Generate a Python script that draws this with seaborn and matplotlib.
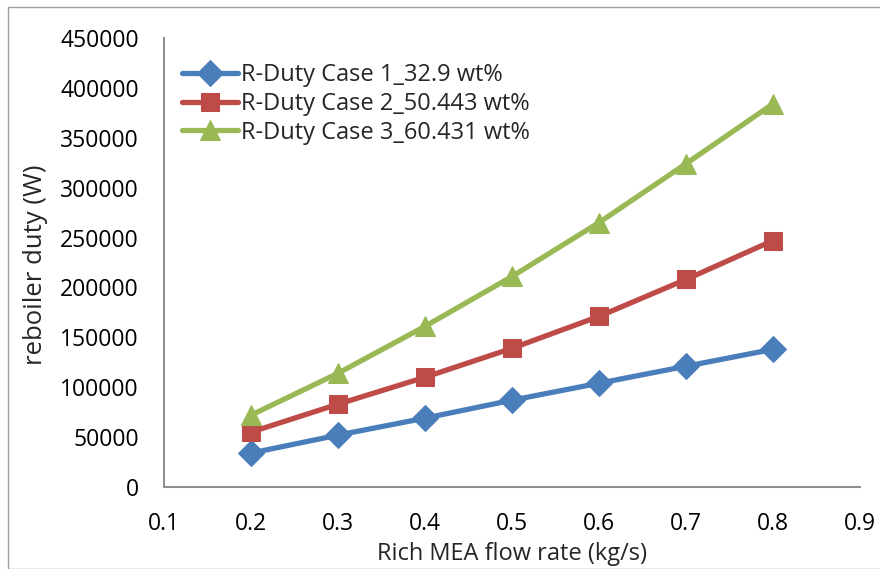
import matplotlib
matplotlib.use("Agg")
import matplotlib.pyplot as plt
import seaborn as sns
import pandas as pd
from matplotlib.patches import Rectangle

flow = [0.2, 0.3, 0.4, 0.5, 0.6, 0.7, 0.8]
case1 = [34000, 52000, 69000, 87000, 104000, 121000, 138000]
case2 = [55000, 83000, 110000, 139000, 171000, 208000, 247000]
case3 = [72000, 114000, 161000, 211000, 265000, 324000, 384000]
labels = ["R-Duty Case 1_32.9 wt%", "R-Duty Case 2_50.443 wt%", "R-Duty Case 3_60.431 wt%"]
colors = ["#4A7EBB", "#BE4B48", "#98B954"]
markers = ["D", "s", "^"]
xticks = [0.1, 0.2, 0.3, 0.4, 0.5, 0.6, 0.7, 0.8, 0.9]
yticks = [0, 50000, 100000, 150000, 200000, 250000, 300000, 350000, 400000, 450000]

sns.set_theme(style="white")
plt.rcParams['font.family'] = ['Open Sans', 'DejaVu Sans']

df = pd.DataFrame({
    "flow": flow * 3,
    "duty": case1 + case2 + case3,
    "series": [labels[0]] * 7 + [labels[1]] * 7 + [labels[2]] * 7,
})

W, H = 880, 569
fig = plt.figure(figsize=(W / 100, H / 100), dpi=100)
fig.patches.append(Rectangle((8 / W, 0), 1, 1 - 7 / H, transform=fig.transFigure,
                             fill=False, edgecolor="#A0A0A0", linewidth=1.0))
ax = fig.add_axes([164 / W, 1 - 487 / H, (860 - 164) / W, (487 - 38) / H])

sizes = {labels[0]: 13, labels[1]: 13.5, labels[2]: 14.5}
for lab, col, mk in zip(labels, colors, markers):
    sub = df[df.series == lab]
    sns.lineplot(data=sub, x="flow", y="duty", ax=ax, color=col, marker=mk,
                 markersize=sizes[lab], markeredgecolor=col, linewidth=3.8,
                 label=lab, solid_capstyle="round")

ax.set_xlim(0.1, 0.9)
ax.set_ylim(0, 450000)
ax.set_xticks(xticks)
ax.set_xticklabels([f"{v:g}" for v in xticks])
ax.set_yticks(yticks)
ax.set_yticklabels([str(v) for v in yticks])
ax.tick_params(axis="both", length=0, labelsize=16.5, colors="black")
ax.tick_params(axis="x", pad=18)
ax.tick_params(axis="y", pad=18)
for s in ["top", "right"]:
    ax.spines[s].set_visible(False)
for s in ["left", "bottom"]:
    ax.spines[s].set_color("#909090")
    ax.spines[s].set_linewidth(1.5)
ax.set_xlabel("Rich MEA flow rate (kg/s)", fontsize=17, labelpad=4)
ax.set_ylabel("reboiler duty (W)", fontsize=18.5)
ax.yaxis.set_label_coords((48 - 164) / (860 - 164), 0.495)

leg = ax.legend(loc="upper left", bbox_to_anchor=(0.012, 0.965), frameon=False,
                fontsize=17, handlelength=2.4, handletextpad=0.1,
                labelspacing=0.2, borderaxespad=0)

fig.savefig("out.png", dpi=100)
